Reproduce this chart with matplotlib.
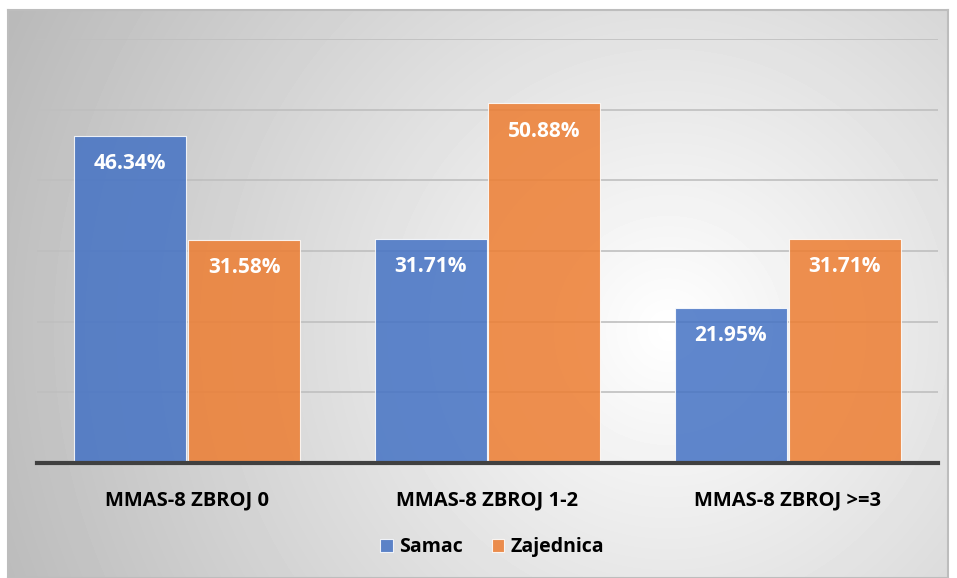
import numpy as np
import matplotlib.pyplot as plt

categories = ["MMAS-8 ZBROJ 0", "MMAS-8 ZBROJ 1-2", "MMAS-8 ZBROJ >=3"]
samac = [46.34, 31.71, 21.95]
zajednica = [31.58, 50.88, 31.71]
series_names = ["Samac", "Zajednica"]

W, H = 957, 578
fig = plt.figure(figsize=(W / 100, H / 100), dpi=100)
fig.patch.set_facecolor("white")

# radial gradient background (chart area)
bg = fig.add_axes([8 / W, 0, 940 / W, 568 / H], zorder=0)
yy, xx = np.mgrid[0:568, 0:940]
cx, cy = 660, 320
r = np.sqrt((xx - cx) ** 2 + (yy - cy) ** 2) / 720
shade = 1.0 - 0.27 * np.clip(r, 0, 1)
bg.imshow(shade, cmap="gray", vmin=0, vmax=1, aspect="auto", interpolation="bilinear")
bg.set_xticks([])
bg.set_yticks([])
for s in bg.spines.values():
    s.set_color("#bdbdbd")
    s.set_linewidth(1.5)

ax = fig.add_axes([37 / W, (578 - 463) / H, 901 / W, (463 - 39) / H], zorder=1)
ax.patch.set_alpha(0)

font = "Open Sans"
x = np.arange(len(categories))
bw = 0.373
colors = ["#4472C4", "#ED7D31"]
for i, (vals, col) in enumerate(zip([samac, zajednica], colors)):
    offs = (i - 0.5) * (bw + 0.006)
    bars = ax.bar(x + offs, vals, bw, color=col, alpha=0.85, edgecolor="white",
                  linewidth=0.8, label=series_names[i], zorder=3)
    for b, v in zip(bars, vals):
        ax.annotate(f"{v:.2f}%", (b.get_x() + b.get_width() / 2, v),
                    xytext=(0, -28), textcoords="offset pixels",
                    ha="center", va="center", color="white", fontsize=15,
                    fontweight="bold", family=font, zorder=4)

ax.set_ylim(0, 60)
ax.set_xlim(-0.5, 2.5)
ax.set_yticks(np.arange(0, 61, 10))
ax.yaxis.grid(True, color="#bfbfbf", linewidth=1.2, zorder=1)
ax.tick_params(axis="y", left=False, labelleft=False)
ax.tick_params(axis="x", bottom=False, pad=16)
ax.set_xticks(x)
ax.set_xticklabels(categories, fontsize=14.5, fontweight="bold", family=font)
for s in ["top", "left", "right"]:
    ax.spines[s].set_visible(False)
ax.spines["bottom"].set_color("#404040")
ax.spines["bottom"].set_linewidth(3)
ax.spines["bottom"].set_zorder(5)

leg = fig.legend(loc="center", bbox_to_anchor=(492 / W, (578 - 547) / H), ncol=2,
                 frameon=False, handlelength=0.65, handleheight=0.65,
                 handletextpad=0.3, columnspacing=1.5,
                 prop={"family": font, "weight": "bold", "size": 14})

fig.savefig("out.png", dpi=100)
